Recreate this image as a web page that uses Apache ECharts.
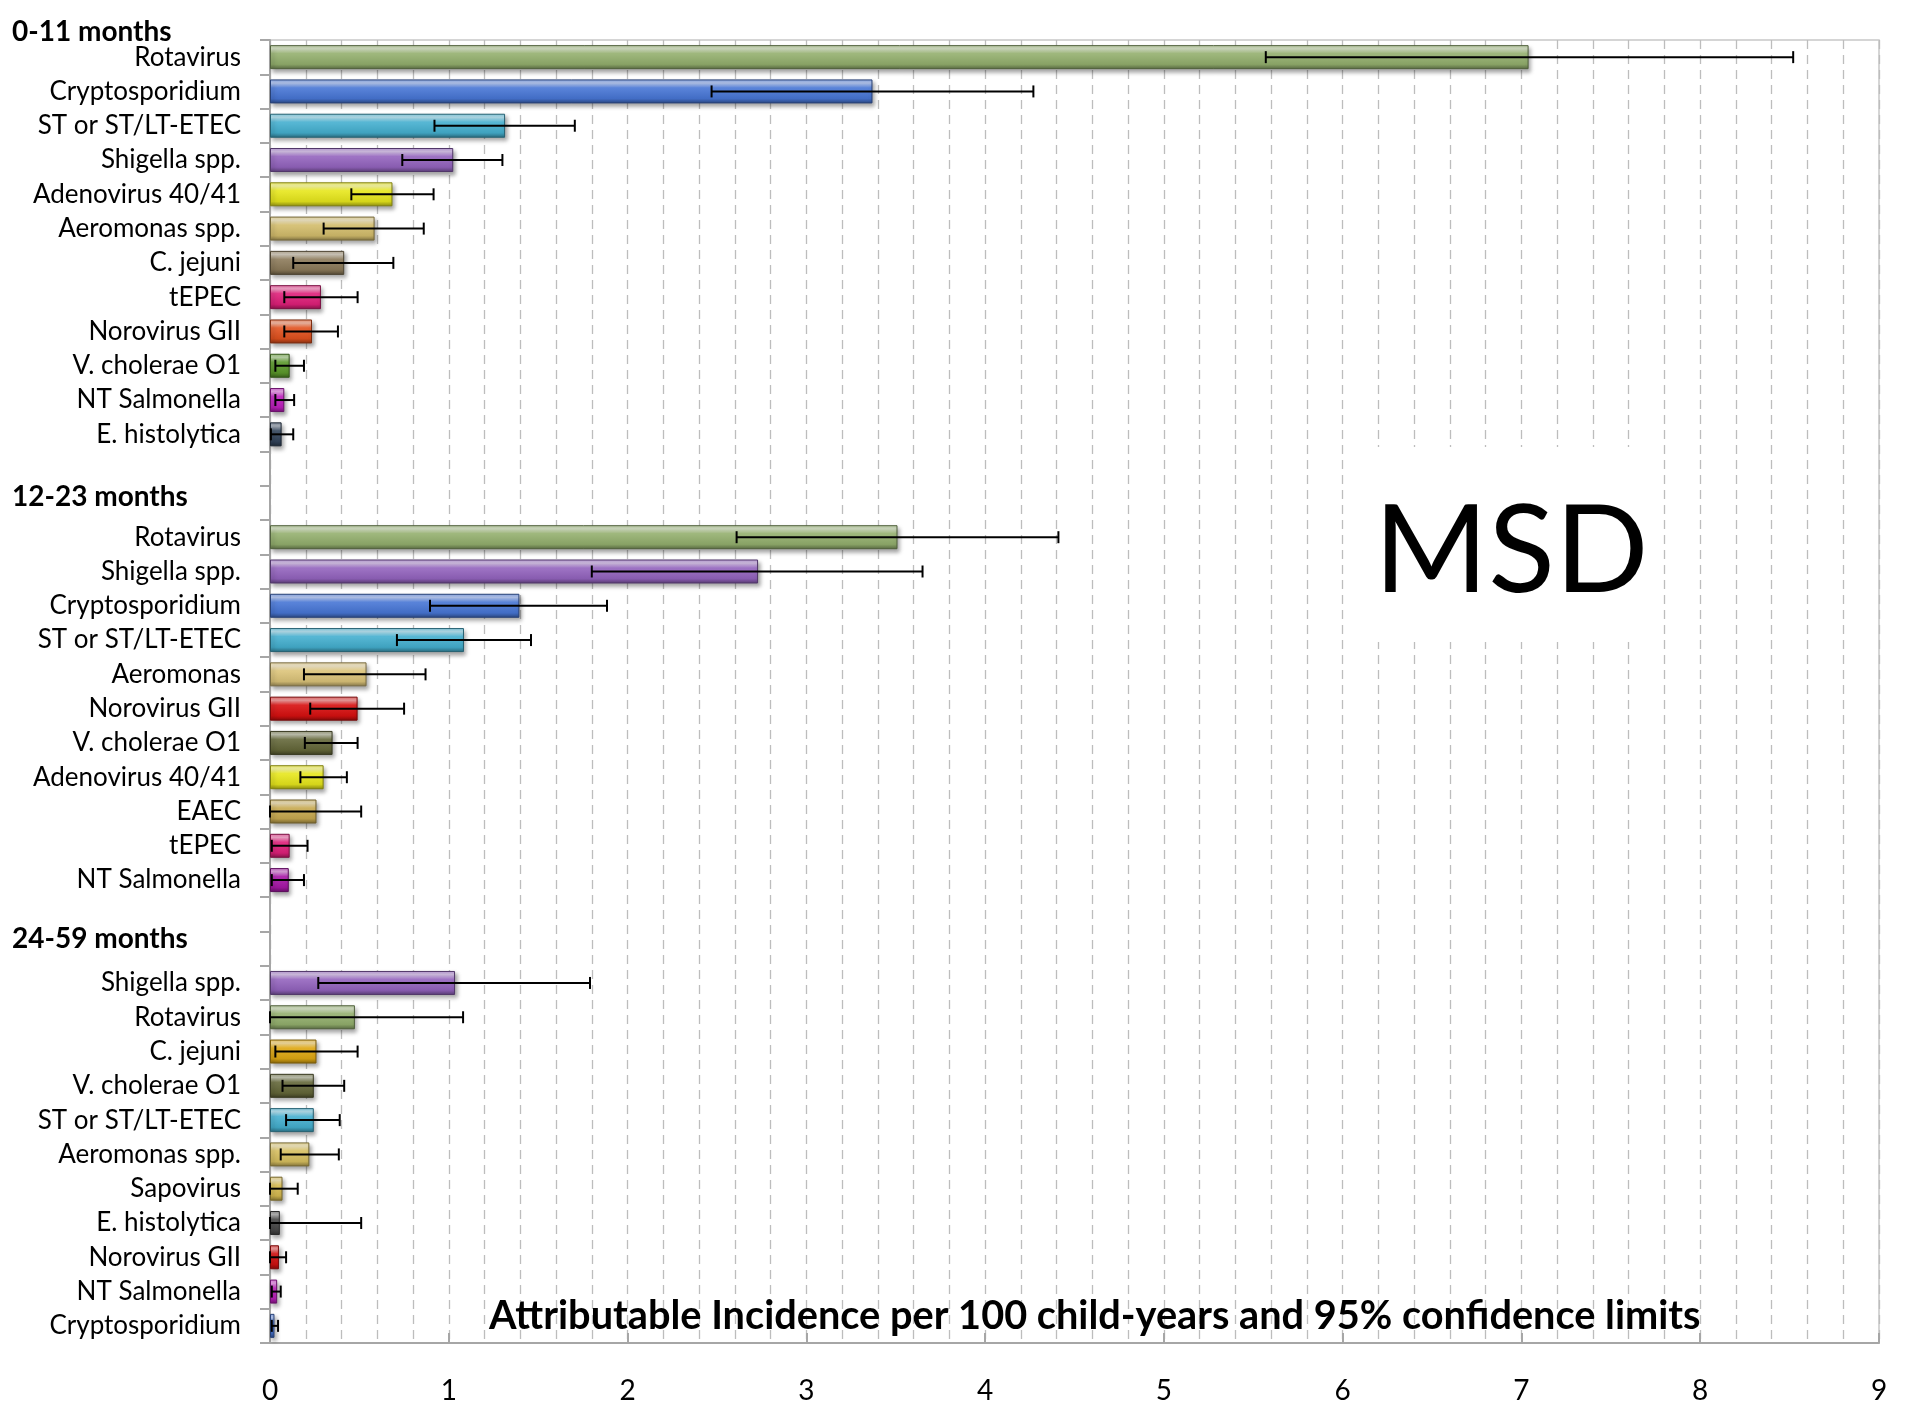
<!DOCTYPE html>
<html>
<head>
<meta charset="utf-8">
<script src="https://cdn.jsdelivr.net/npm/echarts@6/dist/echarts.min.js"></script>
<style>
  html, body { margin: 0; padding: 0; background: #fff; }
  #chart { width: 1917px; height: 1411px; }
</style>
</head>
<body>
<div id="chart"></div>
<script>
// 0-11 months
const g1Names = ['Rotavirus', 'Cryptosporidium', 'ST or ST/LT-ETEC', 'Shigella spp.', 'Adenovirus 40/41', 'Aeromonas spp.',
  'C. jejuni', 'tEPEC', 'Norovirus GII', 'V. cholerae O1', 'NT Salmonella', 'E. histolytica']
const g1Values = [7.04, 3.37, 1.315, 1.025, 0.685, 0.585, 0.415, 0.285, 0.235, 0.11, 0.08, 0.065]
const g1Low = [5.57, 2.47, 0.92, 0.74, 0.455, 0.30, 0.13, 0.08, 0.08, 0.03, 0.03, 0.005]
const g1High = [8.52, 4.27, 1.705, 1.30, 0.915, 0.86, 0.69, 0.49, 0.38, 0.19, 0.135, 0.13]

// 12-23 months
const g2Names = ['Rotavirus', 'Shigella spp.', 'Cryptosporidium', 'ST or ST/LT-ETEC', 'Aeromonas', 'Norovirus GII',
  'V. cholerae O1', 'Adenovirus 40/41', 'EAEC', 'tEPEC', 'NT Salmonella']
const g2Values = [3.51, 2.73, 1.395, 1.085, 0.54, 0.49, 0.35, 0.30, 0.26, 0.11, 0.105]
const g2Low = [2.61, 1.80, 0.895, 0.71, 0.19, 0.225, 0.195, 0.17, 0.0, 0.01, 0.01]
const g2High = [4.41, 3.65, 1.885, 1.46, 0.87, 0.75, 0.49, 0.43, 0.51, 0.21, 0.19]

// 24-59 months
const g3Names = ['Shigella spp.', 'Rotavirus', 'C. jejuni', 'V. cholerae O1', 'ST or ST/LT-ETEC', 'Aeromonas spp.',
  'Sapovirus', 'E. histolytica', 'Norovirus GII', 'NT Salmonella', 'Cryptosporidium']
const g3Values = [1.035, 0.475, 0.26, 0.245, 0.245, 0.22, 0.07, 0.055, 0.05, 0.04, 0.025]
const g3Low = [0.27, 0.0, 0.03, 0.07, 0.09, 0.06, 0.0, 0.0, 0.0, 0.01, 0.01]
const g3High = [1.79, 1.08, 0.49, 0.415, 0.39, 0.385, 0.155, 0.51, 0.09, 0.06, 0.045]

const groupTitles = ['0-11 months', '12-23 months', '24-59 months']
const xTicks = [0, 1, 2, 3, 4, 5, 6, 7, 8, 9]

// bar colours (style only)
const g1Colors = ['#94b06e', '#4876d6', '#45b0d0', '#9464bf', '#e8e81c', '#d4bd6c',
  '#8c7b5a', '#e0207a', '#e2521e', '#5c9a2c', '#c020c0', '#34465e']
const g2Colors = ['#94b06e', '#9464bf', '#4876d6', '#45b0d0', '#dcc47a', '#d81010',
  '#65683a', '#e8e81c', '#c8aa50', '#e0207a', '#a818a8']
const g3Colors = ['#9464bf', '#94b06e', '#e0a812', '#65683a', '#45b0d0', '#d8c060',
  '#d8bc50', '#4a4a4a', '#d81010', '#c020c0', '#4876d6']

function shade(hex, amt) {
  const n = parseInt(hex.slice(1), 16)
  let r = (n >> 16) & 255, g = (n >> 8) & 255, b = n & 255
  if (amt > 0) {
    r = r + (255 - r) * amt; g = g + (255 - g) * amt; b = b + (255 - b) * amt
  } else {
    r = r * (1 + amt); g = g * (1 + amt); b = b * (1 + amt)
  }
  return 'rgb(' + Math.round(r) + ',' + Math.round(g) + ',' + Math.round(b) + ')'
}

function barStyle(c) {
  return {
    color: new echarts.graphic.LinearGradient(0, 0, 0, 1, [
      { offset: 0, color: shade(c, 0.35) },
      { offset: 0.15, color: shade(c, 0.6) },
      { offset: 0.35, color: shade(c, 0.1) },
      { offset: 0.8, color: shade(c, -0.08) },
      { offset: 1, color: shade(c, -0.4) }
    ]),
    borderColor: shade(c, -0.45),
    borderWidth: 1,
    shadowColor: 'rgba(0,0,0,0.35)',
    shadowBlur: 4,
    shadowOffsetX: 2,
    shadowOffsetY: 3
  }
}

// build one category axis: group, blank row, header row, group, ...
const categories = []
const barData = []
const errData = []
const groups = [
  [g1Names, g1Values, g1Low, g1High, g1Colors],
  [g2Names, g2Values, g2Low, g2High, g2Colors],
  [g3Names, g3Values, g3Low, g3High, g3Colors]
]
groups.forEach((grp, gi) => {
  if (gi > 0) {
    categories.push(' '.repeat(gi * 2 - 1))
    barData.push('-')
    categories.push(' '.repeat(gi * 2))
    barData.push('-')
  }
  const [names, vals, lo, hi, cols] = grp
  names.forEach((name, i) => {
    const idx = categories.length
    categories.push(name)
    barData.push({ value: vals[i], itemStyle: barStyle(cols[i]) })
    errData.push([lo[i], hi[i], idx])
  })
})

const FONT = 'Lato, "Open Sans", sans-serif'
const chart = echarts.init(document.getElementById('chart'))

const option = {
  animation: false,
  backgroundColor: '#fff',
  grid: {
    left: 270, right: 38, top: 40, bottom: 68,
    show: true, borderColor: '#c8c8c8', borderWidth: 1.5
  },
  xAxis: {
    type: 'value',
    min: xTicks[0],
    max: xTicks[xTicks.length - 1],
    interval: 1,
    axisLine: { show: true, lineStyle: { color: '#a6a6a6', width: 2 } },
    axisTick: { show: true, inside: true, length: 10, lineStyle: { color: '#a6a6a6', width: 2 } },
    axisLabel: { fontFamily: FONT, fontSize: 28, color: '#000', margin: 34 },
    splitLine: { show: true, lineStyle: { color: '#bdbdbd', width: 1.3, type: [9, 6] } },
    minorTick: { show: false, splitNumber: 5 },
    minorSplitLine: { show: true, lineStyle: { color: '#bdbdbd', width: 1.3, type: [9, 6] } }
  },
  yAxis: {
    type: 'category',
    inverse: true,
    data: categories,
    axisLine: { show: true, lineStyle: { color: '#a6a6a6', width: 2 } },
    axisTick: { show: true, length: 10, lineStyle: { color: '#a6a6a6', width: 2 } },
    axisLabel: { fontFamily: FONT, fontSize: 26, color: '#000', margin: 29, interval: 0 },
    splitLine: { show: false }
  },
  series: [
    {
      type: 'bar',
      barWidth: 24,
      data: barData,
      z: 2
    },
    {
      type: 'custom',
      z: 3,
      data: errData,
      encode: { x: [0, 1], y: 2 },
      renderItem: function (params, api) {
        const row = api.value(2)
        const a = api.coord([api.value(0), row])
        const b = api.coord([api.value(1), row])
        const h = 6
        const st = { stroke: '#000', lineWidth: 2 }
        return {
          type: 'group',
          children: [
            { type: 'line', shape: { x1: a[0], y1: a[1], x2: b[0], y2: b[1] }, style: st },
            { type: 'line', shape: { x1: a[0], y1: a[1] - h, x2: a[0], y2: a[1] + h }, style: st },
            { type: 'line', shape: { x1: b[0], y1: b[1] - h, x2: b[0], y2: b[1] + h }, style: st }
          ]
        }
      }
    }
  ],
  graphic: [
    { type: 'text', left: 12, top: 18, style: { text: groupTitles[0], font: 'bold 28px ' + FONT, fill: '#000' } },
    { type: 'text', left: 12, top: 483, style: { text: groupTitles[1], font: 'bold 28px ' + FONT, fill: '#000' } },
    { type: 'text', left: 12, top: 925, style: { text: groupTitles[2], font: 'bold 28px ' + FONT, fill: '#000' } },
    { type: 'rect', left: 1345, top: 447, shape: { width: 315, height: 195 }, style: { fill: '#fff' }, z: 10 },
    { type: 'text', left: 1374, top: 491, z: 11, style: { text: 'MSD', font: '123px ' + FONT, fill: '#000' } },
    { type: 'text', left: 489, top: 1296, z: 11,
      style: { text: 'Attributable Incidence per 100 child-years and 95% confidence limits', font: 'bold 39.7px ' + FONT, fill: '#000' } }
  ]
}

chart.setOption(option)
</script>
</body>
</html>
